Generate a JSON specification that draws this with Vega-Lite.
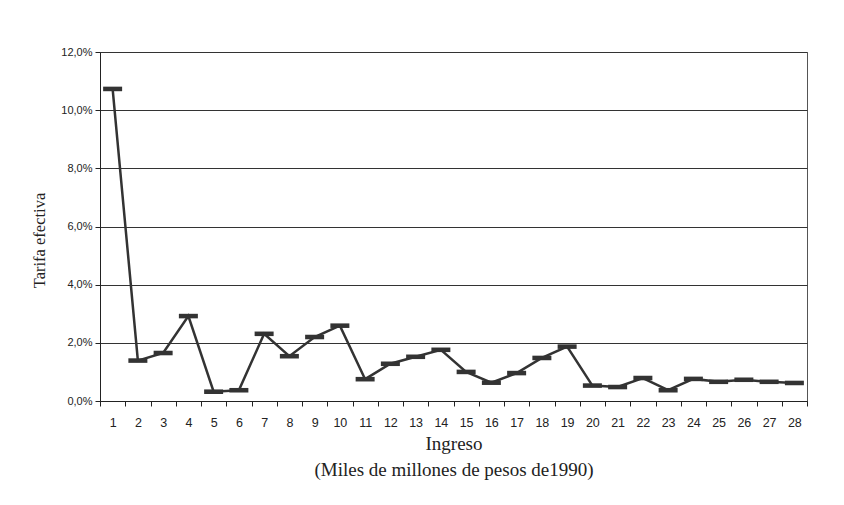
{
  "$schema": "https://vega.github.io/schema/vega-lite/v6.json",
  "width": 707,
  "height": 349,
  "autosize": {"type": "none"},
  "padding": {"left": 100, "top": 52, "right": 37, "bottom": 104},
  "background": "white",
  "config": {
    "view": {"stroke": "#555", "strokeWidth": 1},
    "axis": {"labelFont": "Liberation Sans", "titleFont": "Liberation Serif", "titleFontWeight": "normal", "labelColor": "#222", "titleColor": "#222"}
  },
  "data": {"values": [
    {"ingreso": 1, "tarifa": 0.1073},
    {"ingreso": 2, "tarifa": 0.0139},
    {"ingreso": 3, "tarifa": 0.0165},
    {"ingreso": 4, "tarifa": 0.0292},
    {"ingreso": 5, "tarifa": 0.0032},
    {"ingreso": 6, "tarifa": 0.0037},
    {"ingreso": 7, "tarifa": 0.0231},
    {"ingreso": 8, "tarifa": 0.0154},
    {"ingreso": 9, "tarifa": 0.0220},
    {"ingreso": 10, "tarifa": 0.0259},
    {"ingreso": 11, "tarifa": 0.0075},
    {"ingreso": 12, "tarifa": 0.0128},
    {"ingreso": 13, "tarifa": 0.0152},
    {"ingreso": 14, "tarifa": 0.0176},
    {"ingreso": 15, "tarifa": 0.0100},
    {"ingreso": 16, "tarifa": 0.0063},
    {"ingreso": 17, "tarifa": 0.0096},
    {"ingreso": 18, "tarifa": 0.0148},
    {"ingreso": 19, "tarifa": 0.0187},
    {"ingreso": 20, "tarifa": 0.0053},
    {"ingreso": 21, "tarifa": 0.0048},
    {"ingreso": 22, "tarifa": 0.0079},
    {"ingreso": 23, "tarifa": 0.0037},
    {"ingreso": 24, "tarifa": 0.0076},
    {"ingreso": 25, "tarifa": 0.0066},
    {"ingreso": 26, "tarifa": 0.0073},
    {"ingreso": 27, "tarifa": 0.0066},
    {"ingreso": 28, "tarifa": 0.0062}
  ]},
  "encoding": {
    "x": {
      "field": "ingreso", "type": "ordinal", "sort": "ascending",
      "scale": {"type": "band", "paddingInner": 0, "paddingOuter": 0},
      "axis": {
        "title": ["Ingreso", "(Miles de millones de pesos de1990)"],
        "labelAngle": 0, "labelFontSize": 12.5, "labelPadding": 10,
        "tickBand": "extent", "tickSize": 5, "tickColor": "#222", "domainColor": "#222",
        "titleFontSize": 19, "titleLineHeight": 26, "titlePadding": 6
      }
    },
    "y": {
      "field": "tarifa", "type": "quantitative",
      "scale": {"domain": [0, 0.12]},
      "axis": {
        "title": "Tarifa efectiva", "values": [0, 0.02, 0.04, 0.06, 0.08, 0.1, 0.12],
        "labelExpr": "replace(format(datum.value, '.1%'), '.', ',')",
        "labelFontSize": 11, "labelPadding": 3, "tickSize": 5, "tickColor": "#222",
        "domainColor": "#222", "grid": true, "gridColor": "#333", "gridOpacity": 1,
        "titleFontSize": 16.5, "titlePadding": 13, "titleY": 188
      }
    }
  },
  "layer": [
    {"mark": {"type": "line", "color": "#333", "strokeWidth": 2.5}},
    {"mark": {"type": "point", "shape": "M-1,-0.24L1,-0.24L1,0.24L-1,0.24Z", "filled": true, "color": "#333", "opacity": 1, "size": 361}}
  ]
}
